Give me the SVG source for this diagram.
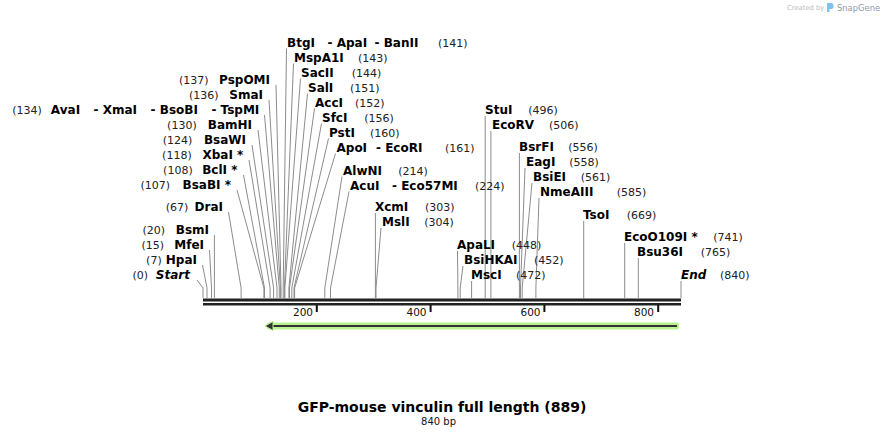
<svg xmlns="http://www.w3.org/2000/svg" width="885" height="438" viewBox="0 0 885 438">
<style>
.n{font-family:"DejaVu Sans",Verdana,sans-serif;font-weight:bold;font-size:12px;fill:#000}
.i{font-style:italic}
.p{font-family:"DejaVu Sans",Verdana,sans-serif;font-size:11px;font-weight:normal;fill:#222}
.e{text-anchor:end}
.ln{fill:none;stroke:#8c8c8c;stroke-width:1}
.tk{font-family:"DejaVu Sans",Verdana,sans-serif;font-size:10.5px;fill:#111;text-anchor:end}
</style>
<rect width="885" height="438" fill="#fff"/>
<g id="logo">
<text x="787" y="10" font-family="DejaVu Sans,sans-serif" font-size="6.8" fill="#bcbcbc">Created by</text>
<path d="M827,3 h4 a2.5,2.5 0 0 1 2.5,2.5 v1 a2.5,2.5 0 0 1 -2.5,2.5 h-1.5 v3 h-2.5 z" fill="#7cc4ef"/>
<text x="837" y="10.5" font-family="DejaVu Sans,sans-serif" font-size="8.4" fill="#8f9aa5">SnapGene</text>
</g>
<g id="connectors">
<path class="ln" d="M281,298 V288 L276,85"/>
<path class="ln" d="M280.4,298 V288 L269,100"/>
<path class="ln" d="M279.3,298 V288 L264.5,115"/>
<path class="ln" d="M277,298 V288 L258,130"/>
<path class="ln" d="M273.6,298 V288 L252,145"/>
<path class="ln" d="M270.1,298 V288 L249,160"/>
<path class="ln" d="M264.5,298 V288 L243.5,175"/>
<path class="ln" d="M263.9,298 V288 L237,190"/>
<path class="ln" d="M241.1,298 V288 L228.5,212"/>
<path class="ln" d="M214.4,298 V235"/>
<path class="ln" d="M211.5,298 V288 L209.5,250"/>
<path class="ln" d="M207,298 V288 L202.5,265"/>
<path class="ln" d="M203,298 V288 L197,280"/>
<path class="ln" d="M283.2,298 V288 L286.5,48.5"/>
<path class="ln" d="M284.4,298 V288 L293.5,63.5"/>
<path class="ln" d="M284.9,298 V288 L300.5,78.5"/>
<path class="ln" d="M288.9,298 V288 L307.5,93.5"/>
<path class="ln" d="M289.5,298 V288 L314.5,108.5"/>
<path class="ln" d="M291.8,298 V288 L321.5,123.5"/>
<path class="ln" d="M294,298 V288 L328.5,138.5"/>
<path class="ln" d="M294.6,298 V288 L335.5,153.5"/>
<path class="ln" d="M324.8,298 V288 L342,176.5"/>
<path class="ln" d="M330.5,298 V288 L349,191.5"/>
<path class="ln" d="M375.4,298 V213"/>
<path class="ln" d="M376,298 V288 L381,228"/>
<path class="ln" d="M457.9,298 V288 L457.5,251"/>
<path class="ln" d="M460.2,298 V288 L463,266"/>
<path class="ln" d="M471.6,298 V281"/>
<path class="ln" d="M485.2,298 V116"/>
<path class="ln" d="M490.9,298 V131"/>
<path class="ln" d="M519.4,298 V153"/>
<path class="ln" d="M520.5,298 V288 L525,168"/>
<path class="ln" d="M522.2,298 V288 L532,183"/>
<path class="ln" d="M535.9,298 V288 L539,198"/>
<path class="ln" d="M583.7,298 V221"/>
<path class="ln" d="M624.7,298 V243"/>
<path class="ln" d="M638.3,298 V258"/>
<path class="ln" d="M681,298 V281"/>
</g>
<g id="backbone">
<rect x="203" y="298.5" width="478" height="3" fill="#222"/>
<rect x="203" y="303" width="478" height="2.5" fill="#222"/>
<rect x="315.8" y="305" width="2" height="7" fill="#111"/>
<rect x="429.6" y="305" width="2" height="7" fill="#111"/>
<rect x="543.4" y="305" width="2" height="7" fill="#111"/>
<rect x="657.2" y="305" width="2" height="7" fill="#111"/>
<text class="tk" x="313" y="316">200</text>
<text class="tk" x="426.5" y="316">400</text>
<text class="tk" x="540.5" y="316">600</text>
<text class="tk" x="654" y="316">800</text>
</g>
<g id="feature-arrow">
<rect x="267" y="322.5" width="412" height="7" rx="2" fill="#b9f28e"/>
<line x1="271" y1="326" x2="677" y2="326" stroke="#333" stroke-width="2"/>
<polygon points="265,326 273,321.5 273,330.5" fill="#333" stroke="#b9f28e" stroke-width="1"/>
</g>
<g id="site-PspOMI"><text class="p e" x="208.5" y="84">(137)</text><text class="n e" x="270" y="84">PspOMI</text></g>
<g id="site-SmaI"><text class="p e" x="218.5" y="99">(136)</text><text class="n e" x="263" y="99">SmaI</text></g>
<g id="site-AvaI"><text class="n e" x="259.3" y="114"><tspan class="p">(134)</tspan><tspan dx="9">AvaI</tspan><tspan dx="13.5">- XmaI</tspan><tspan dx="13.5">- BsoBI</tspan><tspan dx="13.5">- TspMI</tspan></text></g>
<g id="site-BamHI"><text class="p e" x="196.7" y="129">(130)</text><text class="n e" x="252" y="129">BamHI</text></g>
<g id="site-BsaWI"><text class="p e" x="192.3" y="144">(124)</text><text class="n e" x="246" y="144">BsaWI</text></g>
<g id="site-XbaI"><text class="p e" x="191.7" y="159">(118)</text><text class="n e" x="243.3" y="159">XbaI *</text></g>
<g id="site-BclI"><text class="p e" x="192.7" y="174">(108)</text><text class="n e" x="237.5" y="174">BclI *</text></g>
<g id="site-BsaBI"><text class="p e" x="170" y="189">(107)</text><text class="n e" x="231" y="189">BsaBI *</text></g>
<g id="site-DraI"><text class="p e" x="188.3" y="211">(67)</text><text class="n e" x="223" y="211">DraI</text></g>
<g id="site-BsmI"><text class="p e" x="165" y="234">(20)</text><text class="n e" x="209" y="234">BsmI</text></g>
<g id="site-MfeI"><text class="p e" x="164" y="249">(15)</text><text class="n e" x="204" y="249">MfeI</text></g>
<g id="site-HpaI"><text class="p e" x="161.7" y="264">(7)</text><text class="n e" x="197" y="264">HpaI</text></g>
<g id="site-Start"><text class="p e" x="148" y="279">(0)</text><text class="n i e" x="190" y="279">Start</text></g>
<g id="site-BtgI"><text class="n" y="46.5"><tspan x="287">BtgI</tspan><tspan x="327.5">- ApaI</tspan><tspan x="374.5">- BanII</tspan></text><text class="p" x="438" y="46.5">(141)</text></g>
<g id="site-MspA1I"><text class="n" x="294" y="61.5">MspA1I</text><text class="p" x="358" y="61.5">(143)</text></g>
<g id="site-SacII"><text class="n" x="301" y="76.5">SacII</text><text class="p" x="351.7" y="76.5">(144)</text></g>
<g id="site-SalI"><text class="n" x="308" y="91.5">SalI</text><text class="p" x="350" y="91.5">(151)</text></g>
<g id="site-AccI"><text class="n" x="315" y="106.5">AccI</text><text class="p" x="355" y="106.5">(152)</text></g>
<g id="site-SfcI"><text class="n" x="322" y="121.5">SfcI</text><text class="p" x="364.3" y="121.5">(156)</text></g>
<g id="site-PstI"><text class="n" x="329" y="136.5">PstI</text><text class="p" x="370" y="136.5">(160)</text></g>
<g id="site-ApoI"><text class="n" y="151.5"><tspan x="336.5">ApoI</tspan><tspan x="376">- EcoRI</tspan></text><text class="p" x="445" y="151.5">(161)</text></g>
<g id="site-AlwNI"><text class="n" x="343" y="174.5">AlwNI</text><text class="p" x="398.3" y="174.5">(214)</text></g>
<g id="site-AcuI"><text class="n" y="189.5"><tspan x="350">AcuI</tspan><tspan x="392">- Eco57MI</tspan></text><text class="p" x="475" y="189.5">(224)</text></g>
<g id="site-XcmI"><text class="n" x="375" y="211">XcmI</text><text class="p" x="425" y="211">(303)</text></g>
<g id="site-MslI"><text class="n" x="382" y="226">MslI</text><text class="p" x="424.3" y="226">(304)</text></g>
<g id="site-ApaLI"><text class="n" x="457" y="249">ApaLI</text><text class="p" x="511.7" y="249">(448)</text></g>
<g id="site-BsiHKAI"><text class="n" x="464" y="264">BsiHKAI</text><text class="p" x="534" y="264">(452)</text></g>
<g id="site-MscI"><text class="n" x="471" y="279">MscI</text><text class="p" x="516" y="279">(472)</text></g>
<g id="site-StuI"><text class="n" x="485" y="114">StuI</text><text class="p" x="528.3" y="114">(496)</text></g>
<g id="site-EcoRV"><text class="n" x="492" y="129">EcoRV</text><text class="p" x="549" y="129">(506)</text></g>
<g id="site-BsrFI"><text class="n" x="519" y="151">BsrFI</text><text class="p" x="568.3" y="151">(556)</text></g>
<g id="site-EagI"><text class="n" x="526" y="166">EagI</text><text class="p" x="569.3" y="166">(558)</text></g>
<g id="site-BsiEI"><text class="n" x="533" y="181">BsiEI</text><text class="p" x="580.7" y="181">(561)</text></g>
<g id="site-NmeAIII"><text class="n" x="540" y="196">NmeAIII</text><text class="p" x="616.7" y="196">(585)</text></g>
<g id="site-TsoI"><text class="n" x="583" y="219">TsoI</text><text class="p" x="626.7" y="219">(669)</text></g>
<g id="site-EcoO109I"><text class="n" x="624" y="241">EcoO109I *</text><text class="p" x="713.3" y="241">(741)</text></g>
<g id="site-Bsu36I"><text class="n" x="637" y="256">Bsu36I</text><text class="p" x="700.7" y="256">(765)</text></g>
<g id="site-End"><text class="n i" x="681" y="279">End</text><text class="p" x="720" y="279">(840)</text></g>
<g id="title">
<text x="442" y="412" text-anchor="middle" font-family="DejaVu Sans,Verdana,sans-serif" font-weight="bold" font-size="14" fill="#000">GFP-mouse vinculin full length (889)</text>
<text x="438.5" y="424.5" text-anchor="middle" font-family="DejaVu Sans,Verdana,sans-serif" font-size="10" fill="#111">840 bp</text>
</g>
</svg>
